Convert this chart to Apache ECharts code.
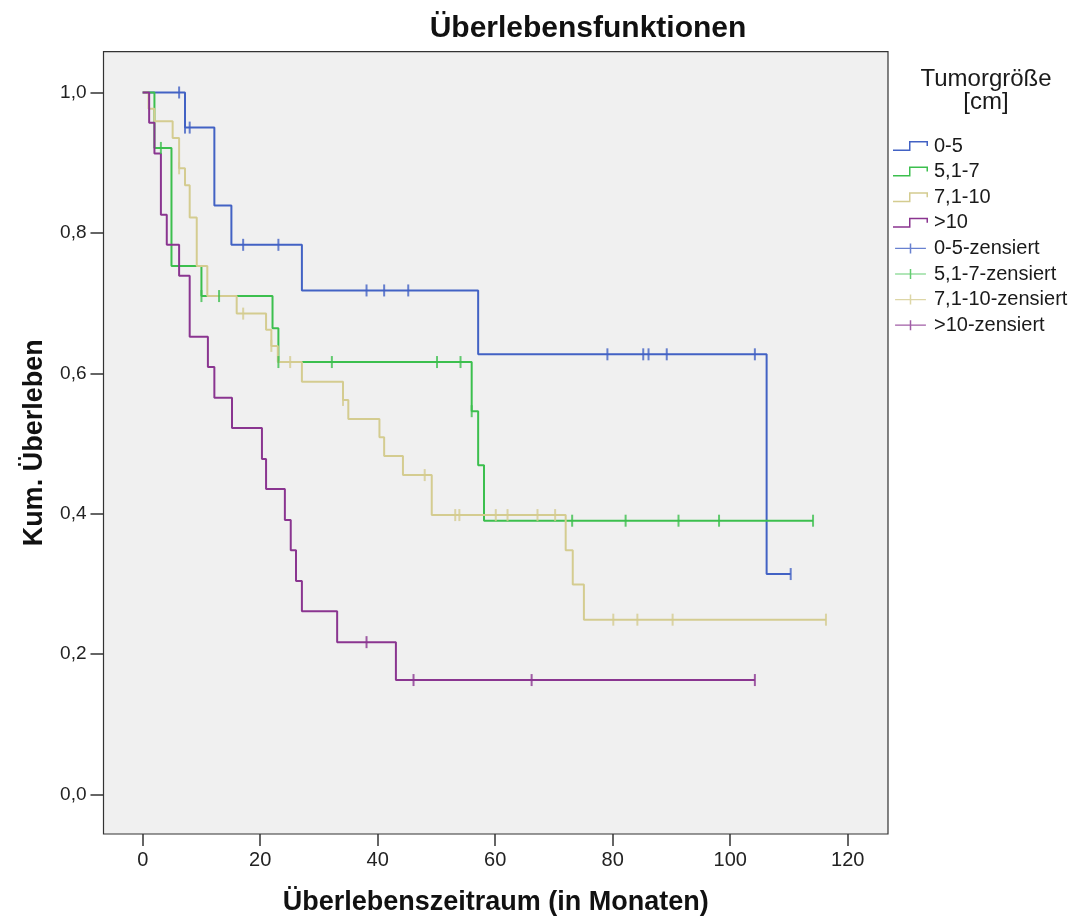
<!DOCTYPE html>
<html>
<head>
<meta charset="utf-8">
<script src="https://cdn.jsdelivr.net/npm/echarts@6/dist/echarts.min.js"></script>
<style>
html,body{margin:0;padding:0;background:#ffffff;}
#chart{width:1081px;height:923px;}
</style>
</head>
<body>
<div id="chart"></div>
<script>
// ---- data ----
const groupNames = ['0-5', '5,1-7', '7,1-10', '>10'];
const censorNames = ['0-5-zensiert', '5,1-7-zensiert', '7,1-10-zensiert', '>10-zensiert'];

const t05 = [0, 7.2, 12.2, 15.1, 27.1, 57.1, 106.2];
const s05 = [1, 0.950, 0.839, 0.783, 0.718, 0.627, 0.314];
const c05 = [6.2, 7.2, 8.0, 17.1, 23.1, 38.1, 41.1, 45.2, 79.1, 85.2, 86.1, 89.2, 104.2, 110.3];

const t517 = [0, 2.0, 4.9, 10.0, 22.1, 23.1, 56.0, 57.1, 58.1];
const s517 = [1, 0.921, 0.753, 0.710, 0.664, 0.616, 0.546, 0.469, 0.390];
const c517 = [3.1, 10.0, 13.0, 23.1, 32.2, 50.1, 54.1, 56.0, 73.1, 82.2, 91.2, 98.1, 114.1];

const t7110 = [0, 1.0, 2.0, 5.1, 6.2, 7.2, 8.0, 9.2, 11.0, 16.0, 21.0, 21.9, 23.0, 27.1, 34.1, 35.0, 40.3, 41.1, 44.3, 49.2, 72.0, 73.2, 75.1];
const s7110 = [1, 0.977, 0.959, 0.935, 0.892, 0.868, 0.822, 0.753, 0.710, 0.685, 0.662, 0.639, 0.616, 0.588, 0.562, 0.535, 0.509, 0.482, 0.455, 0.398, 0.348, 0.299, 0.249];
const c7110 = [6.2, 17.1, 21.9, 25.1, 34.1, 48.0, 53.2, 53.9, 60.1, 62.1, 67.2, 70.2, 80.1, 84.2, 90.2, 116.3];

const t10 = [0, 1.1, 2.0, 3.1, 4.1, 6.2, 8.0, 11.1, 12.2, 15.2, 20.3, 21.0, 24.2, 25.2, 26.1, 27.1, 33.1, 43.1];
const s10 = [1, 0.957, 0.913, 0.826, 0.783, 0.739, 0.652, 0.609, 0.565, 0.522, 0.478, 0.435, 0.391, 0.348, 0.304, 0.261, 0.217, 0.163];
const c10 = [38.1, 46.1, 66.2, 104.2];

const xTicks = [0, 20, 40, 60, 80, 100, 120];
const yTicks = [0, 0.2, 0.4, 0.6, 0.8, 1.0];

// ---- styling ----
const colors = ['#4262c4', '#3cbf4e', '#d4cc90', '#8a3590'];
const FONT = "'Liberation Sans', Arial, sans-serif";

const groups = [
  {t: t05, s: s05, c: c05},
  {t: t517, s: s517, c: c517},
  {t: t7110, s: s7110, c: c7110},
  {t: t10, s: s10, c: c10}
];

function stepAt(times, surv, x) {
  let v = surv[0];
  for (let i = 0; i < times.length; i++) if (times[i] <= x + 1e-9) v = surv[i];
  return v;
}
function lineData(g) {
  const d = g.t.map((t, i) => [t, g.s[i]]);
  const lastC = Math.max.apply(null, g.c);
  const lastT = g.t[g.t.length - 1];
  if (lastC > lastT) d.push([lastC, g.s[g.s.length - 1]]);
  return d;
}
function censorData(g) {
  return g.c.map(c => [c, stepAt(g.t, g.s, c)]);
}

const stepIcon = 'path://M0,8.5 L16,8.5 L16,0 L35,0 L35,5 L33.5,5 L33.5,1.5 L17.5,1.5 L17.5,10 L0,10 Z';
const plusIcon = 'path://M0,5.3 L17.6,5.3 L17.6,0 L19.4,0 L19.4,5.3 L37,5.3 L37,6.7 L19.4,6.7 L19.4,12 L17.6,12 L17.6,6.7 L0,6.7 Z';

const drawOrder = [0, 2, 1, 3];
const series = [];
drawOrder.forEach(i => {
  series.push({
    name: groupNames[i], type: 'line', step: 'end', showSymbol: false,
    data: lineData(groups[i]), color: colors[i],
    lineStyle: {width: 2, color: colors[i]}, z: 2 + i * 0.1
  });
});
drawOrder.forEach(i => {
  series.push({
    name: censorNames[i], type: 'scatter', symbol: 'rect', symbolSize: [2, 12],
    data: censorData(groups[i]), color: colors[i],
    itemStyle: {color: colors[i]}, z: 3
  });
});

const legendData = groupNames.map((n, i) => ({name: n, icon: stepIcon, itemStyle: {color: colors[i]}}))
  .concat(censorNames.map((n, i) => ({name: n, icon: plusIcon, itemStyle: {color: colors[i]}})));

const fmt = v => v.toFixed(1).replace('.', ',');

const chart = echarts.init(document.getElementById('chart'), null, {renderer: 'canvas'});
chart.setOption({
  animation: false,
  backgroundColor: '#ffffff',
  textStyle: {fontFamily: FONT},
  title: [
    {text: 'Überlebensfunktionen', left: 588, top: 14, textAlign: 'center', padding: 0,
     textStyle: {fontFamily: FONT, fontWeight: 'bold', fontSize: 30, color: '#111'}},
    {text: 'Tumorgröße\n[cm]', left: 986, top: 68, textAlign: 'center', padding: 0,
     textStyle: {fontFamily: FONT, fontWeight: 'normal', fontSize: 24, lineHeight: 23, color: '#1a1a1a'}}
  ],
  legend: {
    orient: 'vertical', left: 893, top: 136, padding: 0,
    itemWidth: 37, itemHeight: 10, itemGap: 5.6,
    textStyle: {fontFamily: FONT, fontSize: 20, lineHeight: 20, color: '#1a1a1a'},
    data: legendData, selectedMode: false
  },
  grid: {
    left: 103.5, right: 193, top: 51.7, bottom: 89,
    show: true, backgroundColor: '#f0f0f0', borderColor: '#333', borderWidth: 1.2
  },
  xAxis: {
    type: 'value', min: -6.67, max: 126.86,
    name: 'Überlebenszeitraum (in Monaten)', nameLocation: 'middle', nameGap: 55,
    nameTextStyle: {fontFamily: FONT, fontWeight: 'bold', fontSize: 27, color: '#111'},
    axisLine: {show: false, onZero: false},
    axisTick: {show: true, length: 12, customValues: xTicks, lineStyle: {color: '#333', width: 1.5}},
    axisLabel: {customValues: xTicks, margin: 16, fontFamily: FONT, fontSize: 20, color: '#222', formatter: v => String(v)},
    splitLine: {show: false}
  },
  yAxis: {
    type: 'value', min: -0.0563, max: 1.0581,
    name: 'Kum. Überleben', nameLocation: 'middle', nameGap: 55, nameRotate: 90,
    nameTextStyle: {fontFamily: FONT, fontWeight: 'bold', fontSize: 27, color: '#111'},
    axisLine: {show: false, onZero: false},
    axisTick: {show: true, length: 13, customValues: yTicks, lineStyle: {color: '#333', width: 1.5}},
    axisLabel: {customValues: yTicks, margin: 17, fontFamily: FONT, fontSize: 19, color: '#222', formatter: fmt},
    splitLine: {show: false}
  },
  series: series
});
</script>
</body>
</html>
